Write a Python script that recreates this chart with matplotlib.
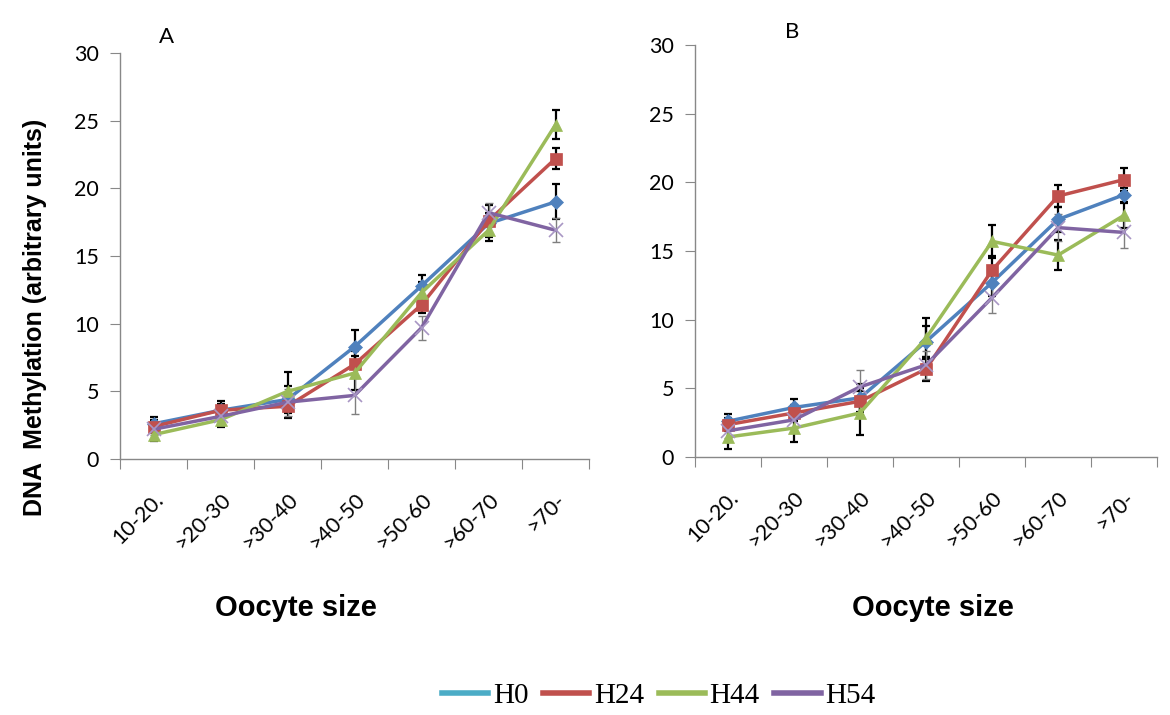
import matplotlib.pyplot as plt
import numpy as np

categories = ['10-20.', '>20-30', '>30-40', '>40-50', '>50-60', '>60-70', '>70-']
series = ['H0', 'H24', 'H44', 'H54']

# panel A
a_h0 = [2.6, 3.6, 4.4, 8.3, 12.8, 17.4, 19.0]
a_h24 = [2.4, 3.6, 3.9, 7.0, 11.4, 17.6, 22.2]
a_h44 = [1.8, 2.9, 5.0, 6.35, 12.3, 16.9, 24.7]
a_h54 = [2.2, 3.15, 4.2, 4.7, 9.7, 18.2, 16.9]
a_h0_err = [0.5, 0.5, 1.0, 1.2, 0.8, 0.8, 1.3]
a_h24_err = [0.5, 0.7, 0.9, 1.0, 0.6, 1.2, 0.75]
a_h44_err = [0.5, 0.5, 1.4, 1.25, 0.8, 0.8, 1.05]
a_h54_err = [0.4, 0.5, 1.0, 1.4, 0.9, 0.7, 0.9]

# panel B
b_h0 = [2.6, 3.6, 4.3, 8.4, 12.7, 17.3, 19.1]
b_h24 = [2.35, 3.2, 4.05, 6.4, 13.6, 19.0, 20.2]
b_h44 = [1.45, 2.1, 3.2, 8.65, 15.7, 14.7, 17.6]
b_h54 = [1.9, 2.7, 5.1, 6.7, 11.6, 16.7, 16.35]
b_h0_err = [0.5, 0.6, 1.0, 1.1, 1.0, 0.9, 0.5]
b_h24_err = [0.5, 0.6, 1.0, 0.9, 1.0, 0.8, 0.85]
b_h44_err = [0.9, 1.0, 1.6, 1.5, 1.2, 1.1, 0.9]
b_h54_err = [0.5, 0.6, 1.2, 1.0, 1.1, 1.0, 1.1]

colors = ['#4F81BD', '#C0504D', '#9BBB59', '#8064A2']
legend_colors = ['#4BACC6', '#C0504D', '#9BBB59', '#8064A2']
markers = ['D', 's', '^', 'x']
msizes = [7, 9, 9, 10]

fig = plt.figure(figsize=(11.7, 7.15), dpi=100)
axA = fig.add_axes([0.1026, 0.358, 0.4009, 0.568])
axB = fig.add_axes([0.594, 0.361, 0.395, 0.576])

x = np.arange(len(categories))


def draw(ax, vals, errs, label):
    for i in range(4):
        ecol = '#7F7F7F' if i == 3 else 'black'
        elw = 1.0 if i == 3 else 1.6
        ax.errorbar(x, vals[i], yerr=errs[i], fmt='none', ecolor=ecol,
                    elinewidth=elw, capsize=3, capthick=elw, zorder=2)
    for i in range(4):
        ax.plot(x, vals[i], color=colors[i], lw=2.5, marker=markers[i],
                ms=msizes[i], mew=1.2 if i == 3 else 0.5,
                mec='#A896C4' if i == 3 else colors[i], zorder=3 + i)
    ax.set_xlim(-0.5, 6.5)
    ax.set_ylim(0, 30)
    ax.set_yticks(range(0, 31, 5))
    ax.set_xticks(np.arange(-0.5, 7, 1), minor=False)
    ax.set_xticklabels([])
    ax.set_xticks(x, minor=True)
    ax.set_xticklabels(categories, minor=True, rotation=45, ha='right',
                       rotation_mode='anchor', fontsize=15.5, family='Lato')
    ax.tick_params(axis='x', which='minor', length=0, pad=22)
    ax.tick_params(axis='x', which='major', length=7, color='#888888', direction='out')
    ax.tick_params(axis='y', length=7, color='#888888', labelsize=15.5, pad=8)
    for t in ax.get_yticklabels():
        t.set_family('Lato')
    for s in ['top', 'right']:
        ax.spines[s].set_visible(False)
    for s in ['left', 'bottom']:
        ax.spines[s].set_color('#888888')
        ax.spines[s].set_linewidth(1)
    ax.text(label[1], label[2], label[0], transform=ax.transAxes,
            fontsize=16, family='Lato', ha='center', va='center')


draw(axA, [a_h0, a_h24, a_h44, a_h54], [a_h0_err, a_h24_err, a_h44_err, a_h54_err],
     ('A', 0.098, 1.04))
draw(axB, [b_h0, b_h24, b_h44, b_h54], [b_h0_err, b_h24_err, b_h44_err, b_h54_err],
     ('B', 0.210, 1.032))

fig.text(0.030, 0.556, 'DNA  Methylation (arbitrary units)', rotation=90,
         ha='center', va='center', fontsize=18, fontweight='bold',
         family='Liberation Sans')
fig.text(0.253, 0.149, 'Oocyte size', ha='center', va='center', fontsize=21,
         fontweight='bold', family='Liberation Sans')
fig.text(0.797, 0.149, 'Oocyte size', ha='center', va='center', fontsize=21,
         fontweight='bold', family='Liberation Sans')

handles = [plt.Line2D([], [], color=c, lw=4) for c in legend_colors]
fig.legend(handles, series, loc='center', bbox_to_anchor=(0.563, 0.027), ncol=4,
           frameon=False, prop={'family': 'Liberation Serif', 'size': 21},
           handlelength=1.6, handletextpad=0.15, columnspacing=0.5)

fig.savefig('out.png', dpi=100)
